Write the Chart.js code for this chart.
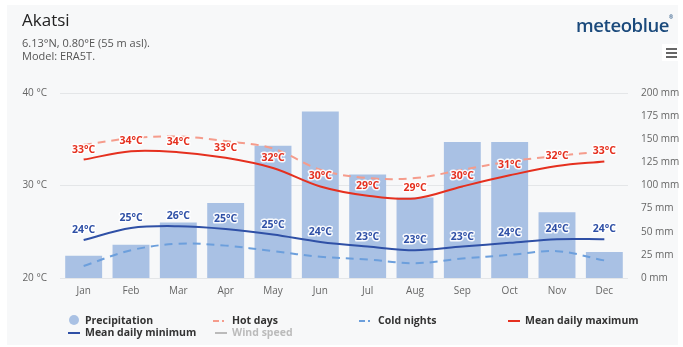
<!DOCTYPE html>
<html>
<head>
<meta charset="utf-8">
<script src="https://cdn.jsdelivr.net/npm/chart.js@4/dist/chart.umd.min.js"></script>
<style>
  html, body { margin: 0; padding: 0; background: #ffffff; }
  #wrap { position: relative; width: 683px; height: 347px; overflow: hidden; font-family: "Open Sans", sans-serif; }
  #panel { position: absolute; left: 7px; top: 5px; width: 671px; height: 340px; background: #f7f8f9; }
  #chart { position: absolute; left: 0; top: 0; }
  .title { position: absolute; left: 22px; top: 8px; font-size: 17px; color: #222; }
  .sub { position: absolute; left: 22px; font-size: 11px; color: #555; }
  .logo { position: absolute; left: 576px; top: 12px; font-size: 18.5px; font-weight: 600; color: #1b4a7c; letter-spacing: -0.4px; }
  .logo sup { font-size: 5px; vertical-align: top; position: relative; top: 2px; }
  .menu { position: absolute; left: 662px; top: 44px; width: 18px; height: 17px; background: #fff; }
  .menu i { position: absolute; left: 4px; width: 11px; height: 2px; background: #666; }
  .leg { position: absolute; font-size: 10.5px; font-weight: 700; color: #333; white-space: nowrap; line-height: 13px; }
  .leg.off { color: #bbb; }
  .ico { position: absolute; }
</style>
</head>
<body>
<div id="wrap">
  <div id="panel"></div>
  <canvas id="chart" width="683" height="347"></canvas>
  <div class="title">Akatsi</div>
  <div class="sub" style="top:35px">6.13°N, 0.80°E (55 m asl).</div>
  <div class="sub" style="top:48px">Model: ERA5T.</div>
  <div class="logo">meteoblue<sup>®</sup></div>
  <div class="menu"><i style="top:4px"></i><i style="top:8px"></i><i style="top:12px"></i></div>
  <div id="legend"></div>
</div>
<script>
// Monthly climate of Akatsi
const months = ["Jan", "Feb", "Mar", "Apr", "May", "Jun", "Jul", "Aug", "Sep", "Oct", "Nov", "Dec"];
const precipitation = [24, 36, 60, 81, 143, 180, 112, 87, 147, 147, 71, 28];   // mm
const meanDailyMax  = [32.8, 33.7, 33.6, 33.0, 31.9, 29.9, 28.9, 28.6, 29.9, 31.1, 32.1, 32.6]; // °C
const meanDailyMin  = [24.1, 25.4, 25.6, 25.3, 24.7, 23.9, 23.4, 23.0, 23.4, 23.8, 24.2, 24.2]; // °C
const hotDays       = [34.4, 35.1, 35.3, 34.8, 34.0, 31.7, 30.8, 30.8, 31.7, 32.6, 33.2, 33.7]; // °C
const coldNights    = [21.3, 23.0, 23.7, 23.5, 22.9, 22.3, 22.0, 21.6, 22.1, 22.5, 22.9, 21.9]; // °C
const tempTicks = [20, 30, 40];
const precipTicks = [0, 25, 50, 75, 100, 125, 150, 175, 200];

const RED = "#e5301f", BLUE = "#2f50a6", SALMON = "#f59c8c", SKY = "#6c9fdc", BAR = "#a9c1e4";

// Value labels above the mean daily max / min lines, with a white halo
const valueLabels = {
  id: "valueLabels",
  afterDatasetsDraw(chart) {
    const ctx = chart.ctx;
    ctx.save();
    ctx.font = "bold 10.5px 'Open Sans', sans-serif";
    ctx.textAlign = "center";
    ctx.textBaseline = "middle";
    ctx.lineJoin = "round";
    chart.data.datasets.forEach((ds, i) => {
      if (!ds.showValues) return;
      const meta = chart.getDatasetMeta(i);
      meta.data.forEach((pt, j) => {
        const txt = Math.round(ds.data[j]) + "°C";
        const y = pt.y - 10;
        ctx.strokeStyle = "rgba(255,255,255,0.9)";
        ctx.lineWidth = 3;
        ctx.strokeText(txt, pt.x, y);
        ctx.fillStyle = ds.borderColor;
        ctx.fillText(txt, pt.x, y);
      });
    });
    ctx.restore();
  }
};

const lineBase = { type: "line", yAxisID: "yT", pointRadius: 0, borderWidth: 2, tension: 0.35, fill: false };

new Chart(document.getElementById("chart"), {
  data: {
    labels: months,
    datasets: [
      Object.assign({}, lineBase, { label: "Mean daily maximum", data: meanDailyMax, borderColor: RED, showValues: true, order: 1 }),
      Object.assign({}, lineBase, { label: "Mean daily minimum", data: meanDailyMin, borderColor: BLUE, showValues: true, order: 2 }),
      Object.assign({}, lineBase, { label: "Hot days", data: hotDays, borderColor: SALMON, borderDash: [8, 6], order: 3 }),
      Object.assign({}, lineBase, { label: "Cold nights", data: coldNights, borderColor: SKY, borderDash: [8, 6], order: 4 }),
      { type: "bar", label: "Precipitation", data: precipitation, yAxisID: "yP", backgroundColor: BAR,
        barPercentage: 0.78, categoryPercentage: 1, order: 10 }
    ]
  },
  options: {
    responsive: false,
    animation: false,
    layout: { padding: { top: 93, left: 0, right: 0, bottom: 0 } },
    plugins: { legend: { display: false }, tooltip: { enabled: false } },
    scales: {
      x: {
        grid: { display: false, drawTicks: false },
        border: { display: false },
        ticks: { color: "#666", font: { size: 10, family: "'Open Sans', sans-serif" }, padding: 7 },
        afterFit(s) { s.height = 69; }
      },
      yT: {
        position: "left", min: 20, max: 40,
        afterBuildTicks(s) { s.ticks = tempTicks.map(v => ({ value: v })); },
        grid: { color: "#e4e6e8", drawTicks: false },
        border: { display: false },
        ticks: { color: "#666", font: { size: 10, family: "'Open Sans', sans-serif" }, padding: 13,
                 callback: v => v + " °C" },
        afterFit(s) { s.width = 60; }
      },
      yP: {
        position: "right", min: 0, max: 200,
        afterBuildTicks(s) { s.ticks = precipTicks.map(v => ({ value: v })); },
        grid: { display: false, drawTicks: false },
        border: { display: false },
        ticks: { color: "#666", font: { size: 10, family: "'Open Sans', sans-serif" }, padding: 13,
                 callback: v => v + " mm" },
        afterFit(s) { s.width = 55; }
      }
    }
  },
  plugins: [valueLabels]
});

// Legend
const legendItems = [
  { text: "Precipitation", x: 85, y: 314, icon: "dot", color: BAR },
  { text: "Hot days", x: 232, y: 314, icon: "dash", color: SALMON },
  { text: "Cold nights", x: 378, y: 314, icon: "dash", color: SKY },
  { text: "Mean daily maximum", x: 525, y: 314, icon: "line", color: RED },
  { text: "Mean daily minimum", x: 85, y: 326, icon: "line", color: BLUE },
  { text: "Wind speed", x: 232, y: 326, icon: "line", color: "#bbb", off: true }
];
const legend = document.getElementById("legend");
legendItems.forEach(it => {
  const t = document.createElement("div");
  t.className = "leg" + (it.off ? " off" : "");
  t.style.left = it.x + "px"; t.style.top = it.y + "px";
  t.textContent = it.text;
  legend.appendChild(t);
  const cy = it.y + 7;
  if (it.icon === "dot") {
    const d = document.createElement("div");
    d.className = "ico";
    Object.assign(d.style, { left: (it.x - 16) + "px", top: (cy - 6) + "px", width: "10px", height: "10px", borderRadius: "50%", background: it.color });
    legend.appendChild(d);
  } else if (it.icon === "line") {
    const d = document.createElement("div");
    d.className = "ico";
    Object.assign(d.style, { left: (it.x - 17) + "px", top: (cy - 1) + "px", width: "12px", height: "2px", background: it.color });
    legend.appendChild(d);
  } else {
    const a = document.createElement("div");
    a.className = "ico";
    Object.assign(a.style, { left: (it.x - 19) + "px", top: (cy - 1) + "px", width: "6px", height: "2px", background: it.color });
    legend.appendChild(a);
    const b = document.createElement("div");
    b.className = "ico";
    Object.assign(b.style, { left: (it.x - 10) + "px", top: (cy - 1) + "px", width: "2px", height: "2px", background: it.color });
    legend.appendChild(b);
  }
});
</script>
</body>
</html>
